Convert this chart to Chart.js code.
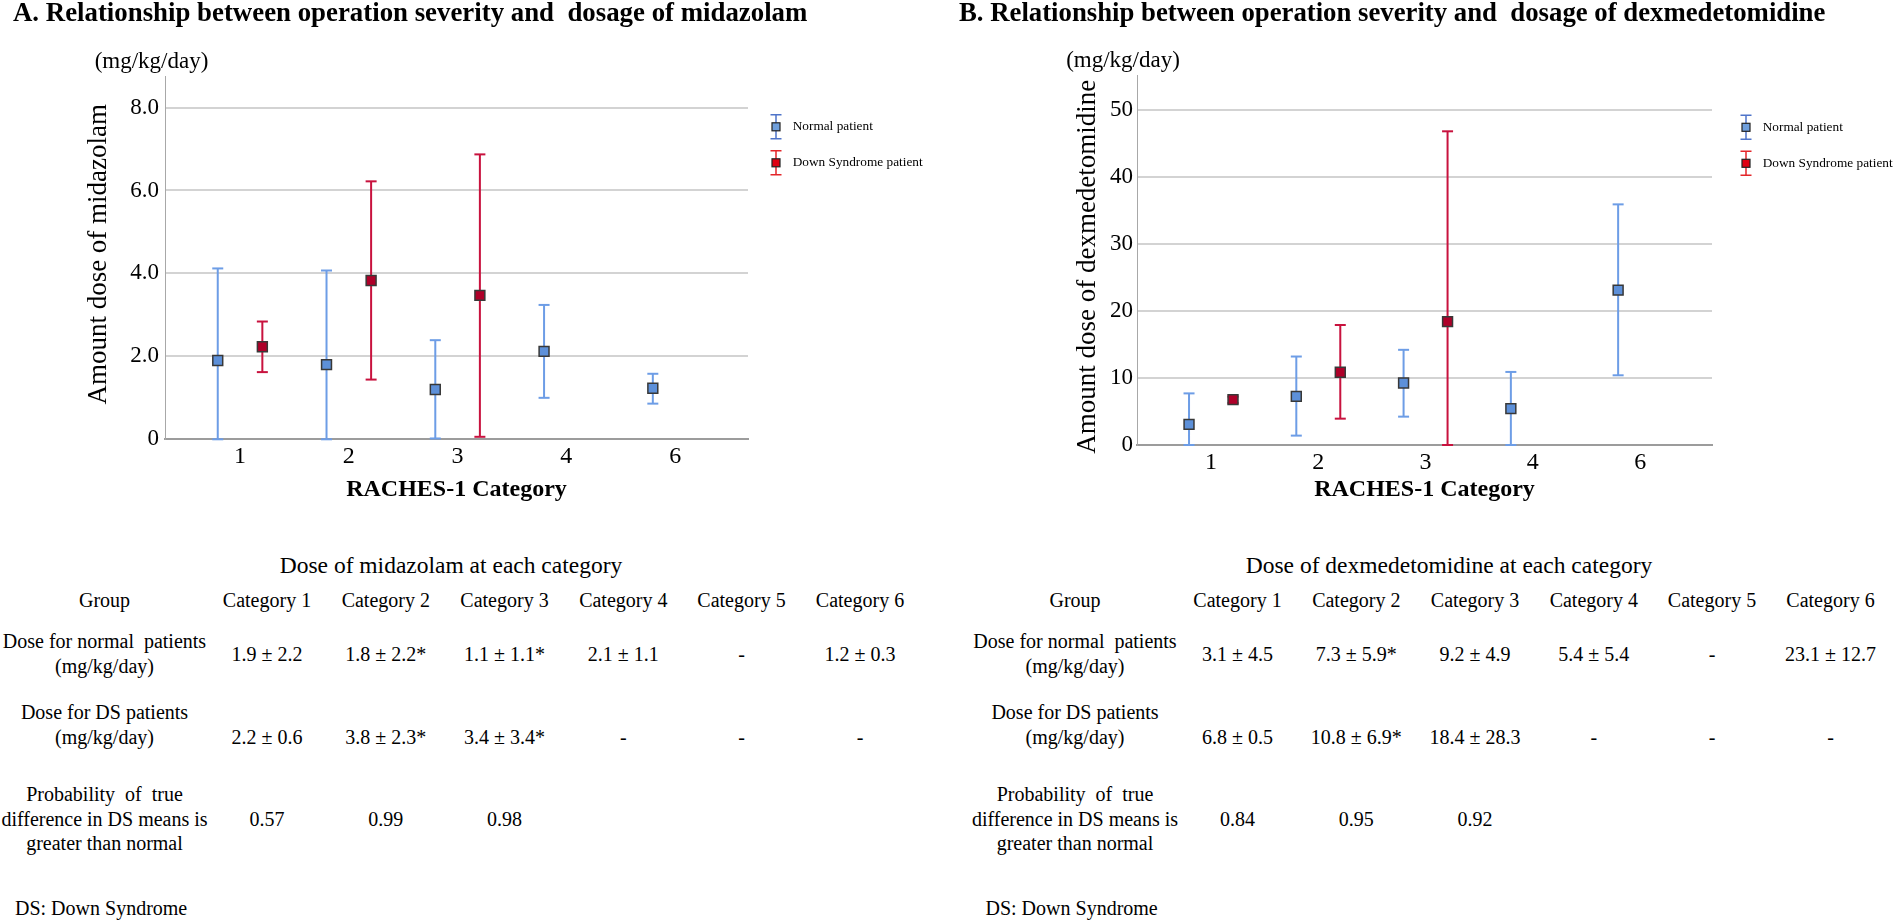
<!DOCTYPE html>
<html>
<head>
<meta charset="utf-8">
<script src="https://cdn.jsdelivr.net/npm/chart.js@4.4.1/dist/chart.umd.min.js"></script>
<style>
html,body{margin:0;padding:0;background:#fff;width:1895px;height:921px;overflow:hidden;
  font-family:"Liberation Serif","Times New Roman",serif;color:#000;}
.t{position:absolute;white-space:pre;text-align:center;transform:translate(-50%,-50%);}
.l{position:absolute;white-space:pre;transform:translate(0,-50%);}
canvas{position:absolute;top:0;}
</style>
</head>
<body>
<canvas id="cA" width="950" height="520" style="left:0px"></canvas>
<canvas id="cB" width="945" height="520" style="left:950px"></canvas>
<script>
// ---------------- DATA ----------------
const categories = ['1', '2', '3', '4', '6'];
const seriesLabels = ['Normal patient', 'Down Syndrome patient'];

// A. midazolam (mg/kg/day) – mean and error-bar ends
const midNormalMean = [1.90, 1.80, 1.20, 2.12, 1.23];
const midNormalLow  = [0.00, 0.00, 0.02, 1.00, 0.86];
const midNormalHigh = [4.12, 4.07, 2.39, 3.24, 1.58];
const midDSMean = [2.23, 3.83, 3.47];
const midDSLow  = [1.62, 1.44, 0.06];
const midDSHigh = [2.84, 6.22, 6.87];

// B. dexmedetomidine
const dexNormalMean = [3.08, 7.26, 9.25, 5.42, 23.1];
const dexNormalLow  = [0.00, 1.40, 4.23, 0.00, 10.4];
const dexNormalHigh = [7.70, 13.2, 14.2, 10.9, 35.9];
const dexDSMean = [6.77, 10.85, 18.4];
const dexDSLow  = [6.25, 3.93, 0.00];
const dexDSHigh = [7.22, 17.9, 46.8];

const yTicksA = [0, 2, 4, 6, 8];
const yTicksB = [0, 10, 20, 30, 40, 50];

// Tables
const tableGroupHeader = 'Group';
const tableCategories = ['Category 1', 'Category 2', 'Category 3', 'Category 4', 'Category 5', 'Category 6'];
const rowLabelNormal = 'Dose for normal  patients\n(mg/kg/day)';
const rowLabelDS = 'Dose for DS patients\n(mg/kg/day)';
const rowLabelProb = 'Probability  of  true\ndifference in DS means is\ngreater than normal';
const midNormalText = ['1.9 ± 2.2', '1.8 ± 2.2*', '1.1 ± 1.1*', '2.1 ± 1.1', '-', '1.2 ± 0.3'];
const midDSText     = ['2.2 ± 0.6', '3.8 ± 2.3*', '3.4 ± 3.4*', '-', '-', '-'];
const midProbText   = ['0.57', '0.99', '0.98', '', '', ''];
const dexNormalText = ['3.1 ± 4.5', '7.3 ± 5.9*', '9.2 ± 4.9', '5.4 ± 5.4', '-', '23.1 ± 12.7'];
const dexDSText     = ['6.8 ± 0.5', '10.8 ± 6.9*', '18.4 ± 28.3', '-', '-', '-'];
const dexProbText   = ['0.84', '0.95', '0.92', '', '', ''];

// ---------------- STYLE ----------------
const FONT = '"Liberation Serif", "Times New Roman", serif';
const COL = {
  nBar: '#6d9de6', dBar: '#c8123e', nFill: '#5d90d9', dFill: '#ae0029', edge: '#383838',
  legN: '#4f74c9', legD: '#e3262a', legNFill: '#6f9fdc', legDFill: '#e00012',
  grid: '#d3d3d3', xAxis: '#9c9c9c', yAxis: '#a8a8a8'
};
Chart.defaults.font.family = FONT;
Chart.defaults.color = '#000';

const errLegend = {
  id: 'errLegend',
  afterDraw(chart, args, opts) {
    const ctx = chart.ctx;
    opts.items.forEach((it, k) => {
      const x = opts.x, y = opts.y + k * 36;
      ctx.save();
      ctx.strokeStyle = it.line; ctx.lineWidth = 1.5;
      ctx.beginPath();
      ctx.moveTo(x, y - 12); ctx.lineTo(x, y + 12);
      ctx.moveTo(x - 5.5, y - 12); ctx.lineTo(x + 5.5, y - 12);
      ctx.moveTo(x - 5.5, y + 12); ctx.lineTo(x + 5.5, y + 12);
      ctx.stroke();
      ctx.fillStyle = it.fill; ctx.fillRect(x - 4, y - 4, 8, 8);
      ctx.strokeStyle = '#222'; ctx.lineWidth = 1.2; ctx.strokeRect(x - 4, y - 4, 8, 8);
      ctx.fillStyle = '#000'; ctx.font = '13.3px ' + FONT; ctx.textBaseline = 'middle'; ctx.textAlign = 'left';
      ctx.fillText(it.label, opts.textX, y);
      ctx.restore();
    });
  }
};

function buildChart(id, o) {
  const off = 0.205;
  const stems = (lo, hi, d) => lo.flatMap((l, i) => [{x: i + d, y: l}, {x: i + d, y: hi[i]}, {x: i + d, y: null}]);
  const caps = (lo, hi, d) => lo.flatMap((l, i) => [{x: i + d, y: l}, {x: i + d, y: hi[i]}]);
  const means = (m, d) => m.map((v, i) => ({x: i + d, y: v}));
  const meanDs = (data, fill, lab) => ({label: lab, data, showLine: false, pointStyle: 'rect', pointRadius: 7,
    pointBackgroundColor: fill, pointBorderColor: COL.edge, pointBorderWidth: 1.5, order: 0, clip: false});
  const capDs = (data, c) => ({data, showLine: false, pointStyle: 'line', pointRadius: 5.5,
    pointBorderColor: c, pointBorderWidth: 2, order: 1, clip: false});
  const stemDs = (data, c) => ({data, showLine: true, pointRadius: 0, borderColor: c, borderWidth: 2,
    spanGaps: false, order: 2, clip: false});
  return new Chart(document.getElementById(id), {
    type: 'scatter',
    data: {datasets: [
      meanDs(means(o.nMean, -off), COL.nFill, seriesLabels[0]),
      meanDs(means(o.dMean, off), COL.dFill, seriesLabels[1]),
      capDs(caps(o.nLow, o.nHigh, -off), COL.nBar),
      capDs(caps(o.dLow, o.dHigh, off), COL.dBar),
      stemDs(stems(o.nLow, o.nHigh, -off), COL.nBar),
      stemDs(stems(o.dLow, o.dHigh, off), COL.dBar)
    ]},
    plugins: [errLegend],
    options: {
      responsive: false, animation: false, devicePixelRatio: 1, events: [],
      layout: {padding: {left: 0, top: o.padT, right: o.padR, bottom: o.padB}},
      plugins: {
        legend: {display: false}, tooltip: {enabled: false},
        errLegend: {x: o.legX, textX: o.legX + 16.7, y: o.legY, items: [
          {label: seriesLabels[0], line: COL.legN, fill: COL.legNFill},
          {label: seriesLabels[1], line: COL.legD, fill: COL.legDFill}]}
      },
      scales: {
        x: {
          type: 'linear', min: -0.69, max: 4.67,
          afterBuildTicks: s => { s.ticks = categories.map((c, i) => ({value: i})); },
          afterFit: s => { s.height = 70; },
          ticks: {callback: v => categories[v] ?? '', font: {size: 24}, color: '#000', padding: 3,
                  autoSkip: false, maxRotation: 0},
          grid: {display: false, drawTicks: false},
          border: {display: true, color: COL.xAxis, width: 2},
          title: {display: true, text: 'RACHES-1 Category', color: '#000',
                  font: {size: 24, weight: 'bold'}, padding: {top: 0, bottom: o.xTitlePad}}
        },
        y: {
          min: 0, max: o.yMax,
          afterBuildTicks: s => { s.ticks = o.yTicks.map(v => ({value: v})); },
          afterFit: s => { s.width = o.yWidth; },
          ticks: {callback: o.fmt, font: {size: 23}, color: '#000', padding: o.yTickPad},
          grid: {color: COL.grid, lineWidth: 2, drawTicks: false},
          border: {display: true, color: COL.yAxis, width: 1},
          title: {display: true, text: o.yTitle, color: '#000', font: {size: 27},
                  padding: {top: o.yTitlePad, bottom: 0}}
        }
      }
    }
  });
}

buildChart('cA', {
  nMean: midNormalMean, nLow: midNormalLow, nHigh: midNormalHigh,
  dMean: midDSMean, dLow: midDSLow, dHigh: midDSHigh,
  yMax: 8.76, yTicks: yTicksA, fmt: v => v === 0 ? '0' : v.toFixed(1),
  yTitle: ' Amount dose of midazolam',
  padT: 76, padR: 202, padB: 10.7, yWidth: 165, yTitlePad: 82.3, xTitlePad: 4.9, yTickPad: 6,
  legX: 776, legY: 126.8
});
buildChart('cB', {
  nMean: dexNormalMean, nLow: dexNormalLow, nHigh: dexNormalHigh,
  dMean: dexDSMean, dLow: dexDSLow, dHigh: dexDSHigh,
  yMax: 55.2, yTicks: yTicksB, fmt: v => String(v),
  yTitle: 'Amount dose of dexmedetomidine  ',
  padT: 75, padR: 183, padB: 5, yWidth: 187, yTitlePad: 121.8, xTitlePad: 10.6, yTickPad: 4,
  legX: 796, legY: 127.3
});

// ---------------- HTML TEXT ----------------
function put(text, cx, cy, css, cls) {
  const d = document.createElement('div');
  d.className = cls || 't';
  d.textContent = text;
  d.style.left = cx + 'px'; d.style.top = cy + 'px';
  Object.assign(d.style, css || {});
  document.body.appendChild(d);
  return d;
}
function fitWidth(el, target) {
  const w = el.getBoundingClientRect().width;
  const fs = parseFloat(el.style.fontSize);
  el.style.fontSize = (fs * target / w) + 'px';
}

const tA = put('A. Relationship between operation severity and  dosage of midazolam', 13, 12,
  {fontSize: '25px', fontWeight: 'bold', lineHeight: '1'}, 'l');
fitWidth(tA, 795);
const tB = put('B. Relationship between operation severity and  dosage of dexmedetomidine', 959, 12,
  {fontSize: '25px', fontWeight: 'bold', lineHeight: '1'}, 'l');
fitWidth(tB, 867);

put('(mg/kg/day)', 151.5, 61, {fontSize: '23px'});
put('(mg/kg/day)', 1123, 60, {fontSize: '23px'});

function buildTable(dx, caption, capX, normalText, dsText, probText) {
  const cols = [267, 385.8, 504.5, 623.3, 741.5, 860].map(v => v + dx);
  const gx = 104.5 + dx;
  const body = {fontSize: '20px', lineHeight: '25px'};
  put(caption, capX, 565, {fontSize: '23.5px'});
  put(tableGroupHeader, gx, 600, body);
  tableCategories.forEach((c, i) => put(c, cols[i], 600, body));
  put(rowLabelNormal, gx, 654.2, body);
  normalText.forEach((v, i) => put(v, cols[i], 654.3, body));
  put(rowLabelDS, gx, 724.8, body);
  dsText.forEach((v, i) => put(v, cols[i], 736.7, body));
  put(rowLabelProb, gx, 819.4, {fontSize: '20px', lineHeight: '24.5px'});
  probText.forEach((v, i) => { if (v) put(v, cols[i], 819.3, body); });
  put('DS: Down Syndrome', 15 + dx, 908.3, {fontSize: '20px'}, 'l');
}
buildTable(0, 'Dose of midazolam at each category', 451, midNormalText, midDSText, midProbText);
buildTable(970.5, 'Dose of dexmedetomidine at each category', 1449, dexNormalText, dexDSText, dexProbText);
</script>
</body>
</html>
